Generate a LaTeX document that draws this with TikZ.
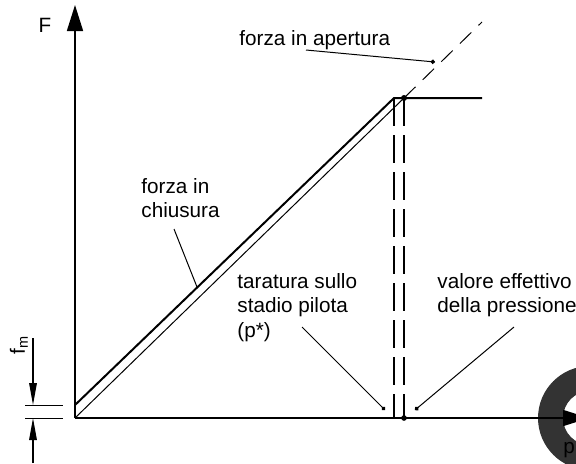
\documentclass[tikz,border=0pt]{standalone}
\usepackage{fontspec}
\setmainfont{Liberation Sans}
\usetikzlibrary{arrows.meta}

\begin{document}
\begin{tikzpicture}[x=0.5pt, y=-0.5pt,
    every node/.style={font=\fontsize{10.35}{12.2}\selectfont, inner sep=0pt},
    ax/.style={line width=0.8pt},
    axtip/.style={-{Triangle[length=13pt, width=8pt]}},
    thk/.style={line width=1pt},
    thn/.style={line width=0.5pt},
    dsh/.style={line width=0.5pt, dash pattern=on 8pt off 5pt},
    vd/.style={line width=0.8pt, dash pattern=on 14pt off 4.5pt},
    dim/.style={line width=0.6pt, -{Triangle[length=11pt, width=3.8pt]}},
    ld/.style={line width=0.5pt, -{Circle[length=2.2pt]}},
    txt/.style={anchor=north west, align=left},
    ring/.style={fill=black!80},
  ]
  \useasboundingbox (0,0) rectangle (576,463);
  \clip (0,0) rectangle (576,463);

  % axes
  \coordinate (O) at (75,418);
  \coordinate (ytip) at (75,5);
  \coordinate (xtip) at (589,418);
  \coordinate (RC) at (590,418);
  \fill[ring, even odd rule] (RC) circle (26pt) (RC) circle (13.5pt);
  \draw[ax, axtip] (O) -- (ytip);
  \draw[ax, axtip] (O) -- (xtip);
  \node (F) at (45,25) {F};
  \node[anchor=base west] (p) at (563,453) {p};

  % closing / opening force
  \coordinate (A0) at (75,405);
  \coordinate (A1) at (394,98);
  \coordinate (H) at (482,98);
  \coordinate (B1) at (404,98);
  \coordinate (B2) at (482,22);
  \draw[thk] (A0) -- (A1) -- (H);
  \draw[thn] (O) -- (B1);
  \draw[dsh] (B1) -- (B2);
  \coordinate (A1b) at (A1 |- O);
  \coordinate (B1b) at (B1 |- O);
  \draw[vd] (A1) -- (A1b);
  \draw[vd] (B1) -- (B1b);
  \fill (B1) circle (1.5pt);
  \fill (B1b) circle (1.4pt);

  % f_m
  \coordinate (fa1) at (25,405);
  \coordinate (fa2) at (63,405);
  \coordinate (fb1) at (25,418);
  \coordinate (fb2) at (63,418);
  \coordinate (fu) at (33,338);
  \coordinate (fd) at (33,463);
  \draw[thn] (fa1) -- (fa2);
  \draw[thn] (fb1) -- (fb2);
  \draw[dim] (fu) -- (fu |- fa1);
  \draw[dim] (fd) -- (fd |- fb1);
  \node[anchor=base west, rotate=90] (fm) at (25,355) {f\textsubscript{m}};

  % labels
  \node[txt] (lap) at (239,30) {forza in apertura};
  \node[txt] (lch) at (141,178) {forza in\\chiusura};
  \node[txt] (ltar) at (237,273) {taratura sullo\\stadio pilota\\(p*)};
  \node[txt] (lval) at (437,273) {valore effettivo\\della pressione};

  % leaders
  \coordinate (lap0) at (306,50);
  \coordinate (lap1) at (435,62);
  \coordinate (lch0) at (174,229);
  \coordinate (lch1) at (197,287);
  \coordinate (ltar0) at (302,327);
  \coordinate (ltar1) at (385,410);
  \coordinate (lval0) at (514,327);
  \coordinate (lval1) at (415,410);
  \draw[ld] (lap0) -- (lap1);
  \draw[thn] (lch0) -- (lch1);
  \draw[ld] (ltar0) -- (ltar1);
  \draw[ld] (lval0) -- (lval1);
\end{tikzpicture}
\end{document}
